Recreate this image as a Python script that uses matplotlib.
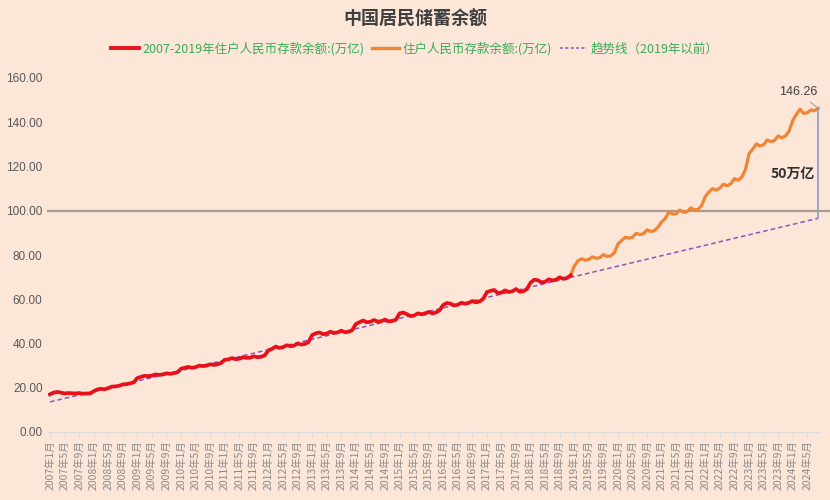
import matplotlib
matplotlib.use("Agg")
import matplotlib.pyplot as plt
from matplotlib.lines import Line2D
import pandas as pd

plt.rcParams['font.family'] = ['Noto Sans CJK SC', 'DejaVu Sans']

# ---- data (万亿元), monthly 2007-01 .. 2024-08 ----
months = pd.period_range('2007-01', '2024-08', freq='M')
tick_labels = [f"{p.year}年{p.month}月" for p in months]

red_values = [
    # 2007
    17.0, 17.8, 18.1, 17.8, 17.4, 17.6, 17.5, 17.4, 17.6, 17.3, 17.4, 17.4,
    # 2008
    18.4, 19.2, 19.5, 19.3, 19.8, 20.5, 20.6, 20.9, 21.5, 21.6, 22.0, 22.4,
    # 2009
    24.4, 24.9, 25.4, 25.2, 25.5, 26.0, 25.8, 26.0, 26.5, 26.3, 26.6, 27.0,
    # 2010
    28.6, 29.0, 29.4, 29.0, 29.3, 30.0, 29.8, 30.0, 30.6, 30.3, 30.6, 31.2,
    # 2011
    32.6, 32.8, 33.4, 32.9, 33.1, 33.8, 33.5, 33.6, 34.2, 33.8, 34.0, 34.6,
    # 2012
    36.9, 37.6, 38.6, 38.0, 38.3, 39.2, 38.8, 39.0, 40.0, 39.5, 39.8, 40.6,
    # 2013
    43.8, 44.6, 45.0, 44.2, 44.5, 45.3, 44.8, 45.0, 45.8, 45.1, 45.3, 46.0,
    # 2014
    48.8, 49.6, 50.4, 49.6, 49.8, 50.6, 49.9, 50.1, 50.8, 50.0, 50.2, 50.7,
    # 2015
    53.6, 54.0, 53.3, 52.4, 52.6, 53.6, 53.2, 53.5, 54.3, 53.6, 54.0, 55.0,
    # 2016
    57.4, 58.3, 58.0, 57.2, 57.5, 58.4, 58.0, 58.3, 59.2, 58.6, 59.0, 60.2,
    # 2017
    63.2, 63.8, 64.2, 62.8, 63.0, 64.0, 63.3, 63.6, 64.6, 63.4, 63.6, 64.6,
    # 2018
    67.5, 68.8, 68.6, 67.6, 67.9, 69.0, 68.5, 68.8, 69.9, 69.2, 69.6, 70.8,
]

orange_values = [
    # 2019
    75.0, 77.4, 78.3, 77.6, 78.0, 79.2, 78.5, 78.8, 80.2, 79.3, 79.6, 81.0,
    # 2020
    85.0, 86.5, 88.0, 87.6, 88.0, 89.8, 89.2, 89.6, 91.4, 90.6, 91.0, 92.6,
    # 2021
    95.0, 96.5, 99.5, 98.5, 98.6, 100.3, 99.3, 99.6, 101.3, 100.4, 100.6, 102.4,
    # 2022
    106.5, 108.5, 110.0, 109.3, 110.3, 112.0, 111.3, 112.2, 114.5, 113.8, 115.2, 118.5,
    # 2023
    125.8, 127.8, 130.2, 129.3, 129.8, 132.0, 131.2, 131.8, 133.8, 133.0, 133.8, 136.0,
    # 2024
    140.8, 143.5, 145.9, 144.0, 144.3, 145.6, 145.2, 146.26,
]

trend_start = 13.6   # trend line value at 2007-01
trend_end = 96.6     # trend line value at 2024-08
ref_level = 100.0
end_label = "146.26"
gap_label = "50万亿"

title = "中国居民储蓄余额"
legend_red = "2007-2019年住户人民币存款余额:(万亿)"
legend_orange = "住户人民币存款余额:(万亿)"
legend_trend = "趋势线（2019年以前）"
yticks = [0, 20, 40, 60, 80, 100, 120, 140, 160]

# ---- figure ----
bg = '#fce6d8'
fig = plt.figure(figsize=(8.3, 5.0), dpi=100, facecolor=bg)
ax = fig.add_axes([0.058, 0.136, 0.930, 0.708], facecolor=bg)

n = len(months)
x_red = list(range(len(red_values)))
x_orange = list(range(len(red_values) - 1, n))
y_orange = [red_values[-1]] + orange_values

ax.plot([0, n - 1], [trend_start, trend_end], color='#8e55b8', lw=1.1,
        ls=(0, (3, 2)), zorder=2)
ax.plot(x_orange, y_orange, color='#ef8535', lw=2.3, zorder=3,
        solid_joinstyle='round')
ax.plot(x_red, red_values, color='#e8101a', lw=2.7, zorder=4,
        solid_joinstyle='round')

# 100 reference line across the whole width
ax.add_line(Line2D([0, 1.05], [ref_level, ref_level], transform=ax.get_yaxis_transform(),
                   color='#a89a90', lw=1.6, clip_on=False, zorder=1))

# vertical gap line and annotations
ax.plot([n - 1, n - 1], [trend_end, orange_values[-1]], color='#8aa4c4', lw=1.3,
        zorder=5, clip_on=False)
ax.annotate(end_label, xy=(n - 1, orange_values[-1]), xytext=(n - 6.5, 153.5),
            ha='center', va='center', fontsize=9, color='#404040',
            arrowprops=dict(arrowstyle='-', color='#a0a0a0', lw=0.8,
                            shrinkA=1, shrinkB=0, relpos=(0.7, 0.0)),
            family=['Liberation Sans', 'DejaVu Sans'])
ax.text(n - 8.0, 116.5, gap_label, ha='center', va='center', fontsize=10,
        fontweight='bold', color='#303030')

ax.set_xlim(-0.5, n - 0.5)
ax.set_ylim(0, 160)
ax.set_yticks(yticks)
ax.set_yticklabels([f"{v:.2f}" for v in yticks], fontsize=8.5, color='#595959',
                   family=['Liberation Sans', 'DejaVu Sans'])
ax.tick_params(axis='y', length=0, pad=4)

tick_pos = list(range(0, n, 4))
ax.set_xticks(tick_pos)
ax.set_xticklabels([tick_labels[i] for i in tick_pos], rotation=90, fontsize=7.5,
                   color='#8a8a8a')
ax.tick_params(axis='x', length=4, color='#dcdcdc', pad=2)

for s in ['top', 'right', 'left']:
    ax.spines[s].set_visible(False)
ax.spines['bottom'].set_color('#dcdcdc')
ax.spines['bottom'].set_linewidth(0.8)

fig.text(0.5, 0.962, title, ha='center', va='center', fontsize=13,
         fontweight='bold', color='#404040')

handles = [
    Line2D([], [], color='#e8101a', lw=2.8),
    Line2D([], [], color='#ef8535', lw=2.4),
    Line2D([], [], color='#8e55b8', lw=1.1, ls=(0, (2, 1.5))),
]
leg = fig.legend(handles, [legend_red, legend_orange, legend_trend],
                 loc='center', bbox_to_anchor=(0.5, 0.902), ncol=3, frameon=False,
                 fontsize=9, handlelength=2.2, handletextpad=0.3, columnspacing=0.6)
for t in leg.get_texts():
    t.set_color('#3aaa5a')

fig.savefig('out.png', dpi=100, facecolor=bg)
